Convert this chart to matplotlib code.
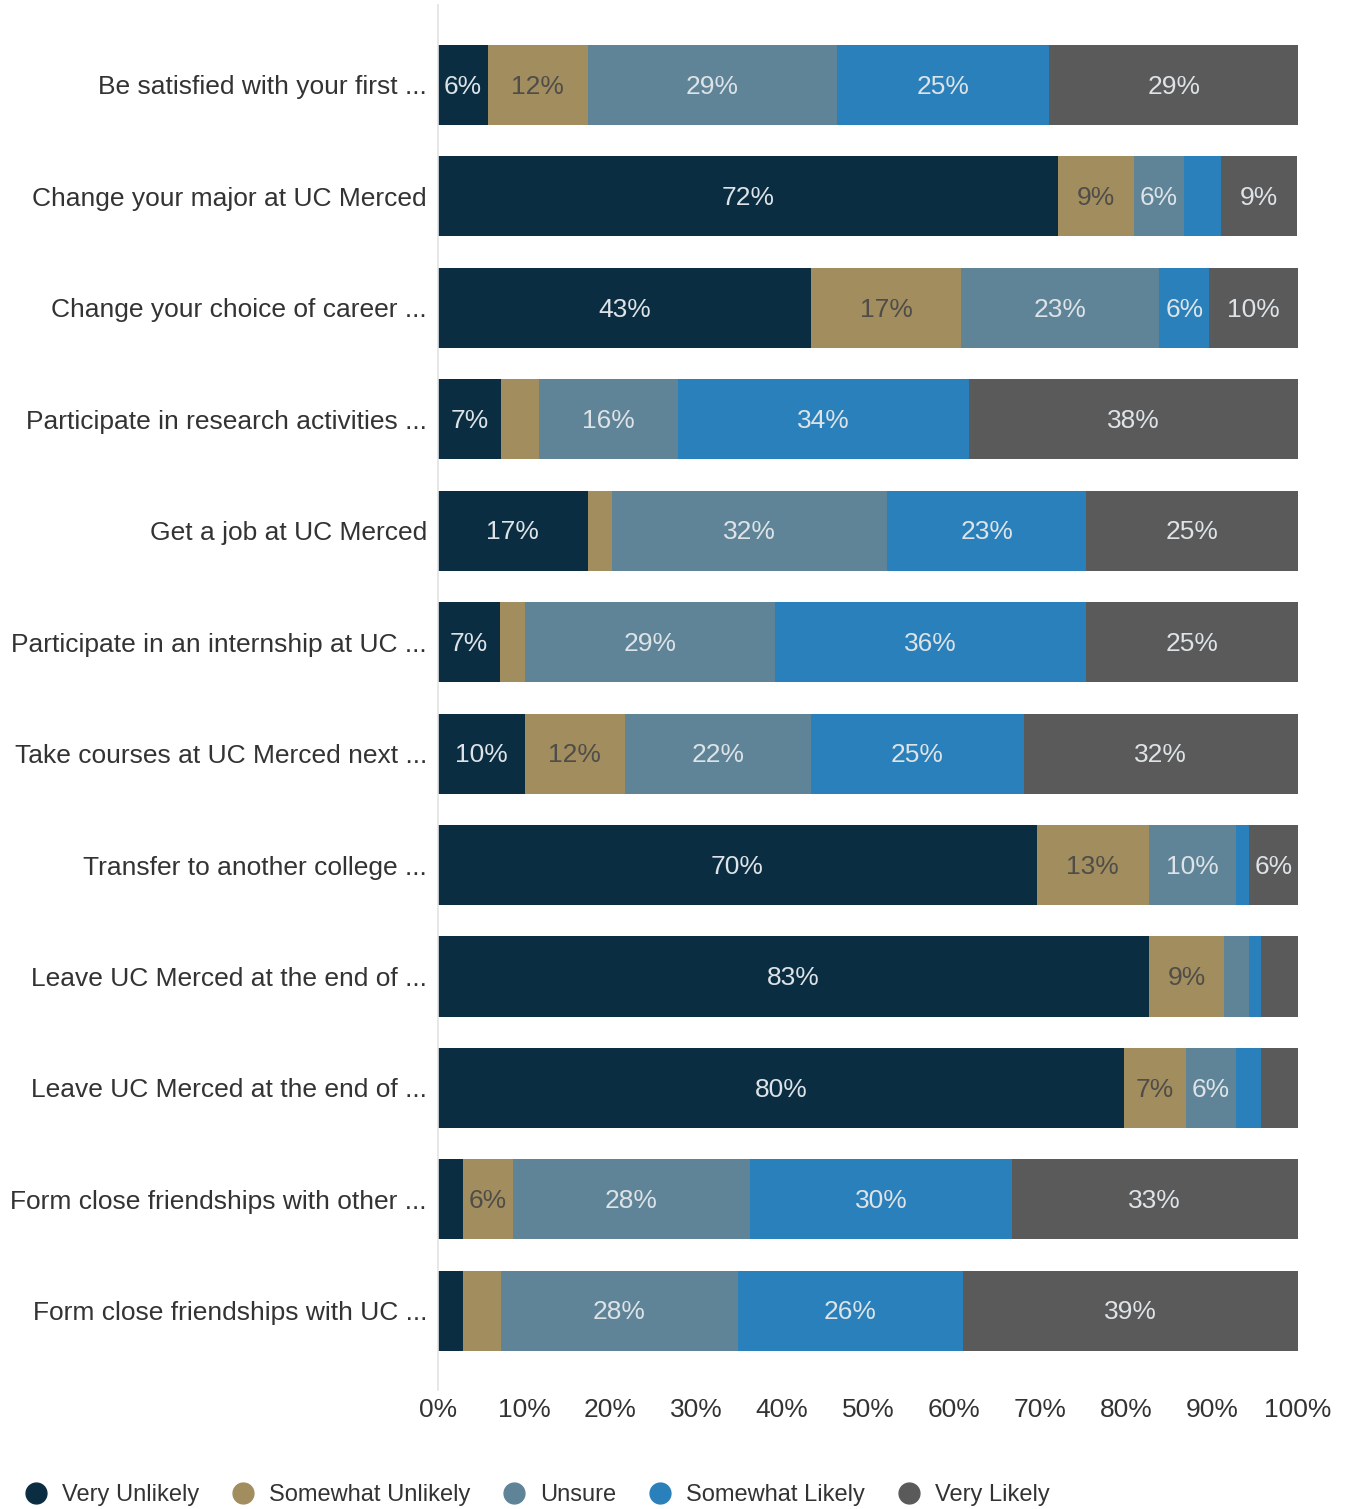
import matplotlib
matplotlib.use('Agg')
import matplotlib.pyplot as plt
from matplotlib.lines import Line2D
import numpy as np

plt.rcParams['font.family'] = ['Liberation Sans', 'DejaVu Sans']

questions = [
    'Be satisfied with your first ...',
    'Change your major at UC Merced',
    'Change your choice of career ...',
    'Participate in research activities ...',
    'Get a job at UC Merced',
    'Participate in an internship at UC ...',
    'Take courses at UC Merced next ...',
    'Transfer to another college ...',
    'Leave UC Merced at the end of ...',
    'Leave UC Merced at the end of ...',
    'Form close friendships with other ...',
    'Form close friendships with UC ...',
]

responses = ['Very Unlikely', 'Somewhat Unlikely', 'Unsure', 'Somewhat Likely', 'Very Likely']

very_unlikely     = [5.8, 72.1, 43.4, 7.3, 17.4, 7.2, 10.1, 69.6, 82.7, 79.8, 2.9, 2.9]
somewhat_unlikely = [11.6, 8.8, 17.4, 4.4, 2.8, 2.9, 11.6, 13.1, 8.7, 7.2, 5.8, 4.4]
unsure            = [29.0, 5.9, 23.1, 16.2, 32.0, 29.1, 21.7, 10.1, 2.9, 5.8, 27.6, 27.6]
somewhat_likely   = [24.7, 4.3, 5.8, 33.8, 23.2, 36.2, 24.7, 1.5, 1.4, 2.9, 30.4, 26.1]
very_likely       = [28.9, 8.8, 10.3, 38.3, 24.6, 24.6, 31.9, 5.7, 4.3, 4.3, 33.3, 39.0]

colors = ['#0b2d42', '#a28d5f', '#5f8497', '#2a80ba', '#5a5a5a']
label_colors = ['#dde3e7', '#4f4d48', '#dde3e7', '#dde3e7', '#dde3e7']

series = [very_unlikely, somewhat_unlikely, unsure, somewhat_likely, very_likely]

fig = plt.figure(figsize=(13.46, 15.09), dpi=100)
ax = fig.add_axes([0.3254, 0.0789, 0.6389, 0.9178])

y = np.arange(len(questions))
left = np.zeros(len(questions))
for vals, col, lcol, name in zip(series, colors, label_colors, responses):
    vals = np.array(vals)
    bars = ax.barh(y, vals, left=left, height=0.718, color=col, label=name)
    for b, v in zip(bars, vals):
        if v >= 5:
            ax.text(b.get_x() + b.get_width() / 2, b.get_y() + b.get_height() / 2 + 0.015,
                    '{:.0f}%'.format(v), ha='center', va='center',
                    fontsize=19, color=lcol)
    left += vals

ax.set_xlim(0, 100)
ax.set_ylim(11.71, -0.718)
ax.set_yticks(y)
ax.set_yticklabels(questions, fontsize=19, color='#333333')
ax.set_xticks(np.arange(0, 101, 10))
ax.set_xticklabels(['{}%'.format(t) for t in range(0, 101, 10)], fontsize=19, color='#333333')
ax.tick_params(axis='both', length=0)
ax.tick_params(axis='y', pad=8)
ax.tick_params(axis='x', pad=6)

for s in ['top', 'right', 'bottom']:
    ax.spines[s].set_visible(False)
ax.spines['left'].set_color('#e3e3e3')
ax.spines['left'].set_linewidth(1.2)

handles = [Line2D([0], [0], marker='o', linestyle='', markersize=15,
                  markerfacecolor=c, markeredgecolor=c) for c in colors]
fig.legend(handles, responses, loc='center left', bbox_to_anchor=(0.003, 0.009),
           ncol=5, frameon=False, fontsize=17, handlelength=0.9,
           handletextpad=0.65, columnspacing=1.41, labelcolor='#333333')

fig.savefig('out.png', dpi=100)
